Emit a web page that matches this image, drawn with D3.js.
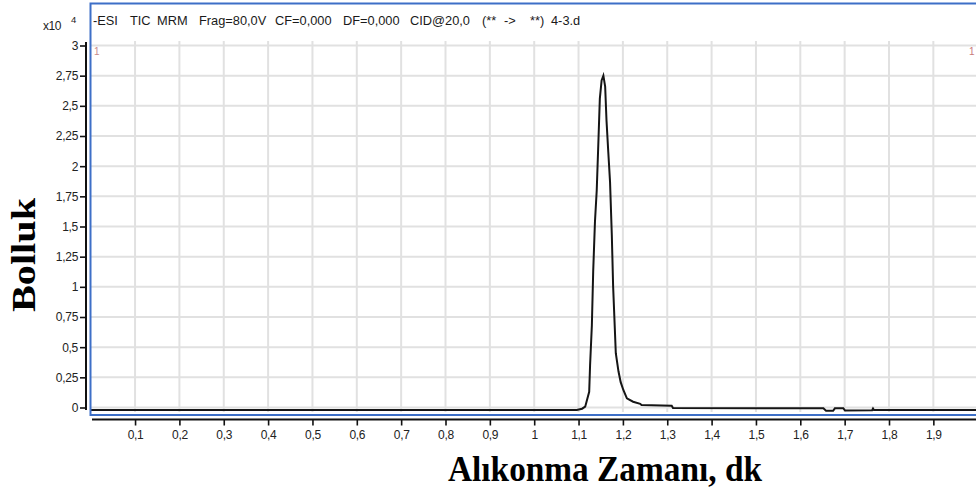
<!DOCTYPE html>
<html>
<head>
<meta charset="utf-8">
<script src="https://cdn.jsdelivr.net/npm/d3@7"></script>
<style>
  body { margin: 0; background: #fff; }
  svg { display: block; }
</style>
</head>
<body>
<svg id="chart" width="976" height="492"></svg>
<script>
// retention time (min) / abundance (x10^4)
const times = [0, 1.096, 1.108, 1.115, 1.118, 1.124, 1.126, 1.130, 1.133, 1.137, 1.141, 1.145, 1.148, 1.152, 1.156,
  1.160, 1.163, 1.167, 1.171, 1.175, 1.178, 1.184, 1.190, 1.195, 1.201, 1.209, 1.223, 1.239, 1.242, 1.310, 1.313,
  1.652, 1.658, 1.674, 1.678, 1.697, 1.701, 1.762, 1.764, 1.766, 2.0]
const abund = [-0.02, -0.02, -0.01, 0.007, 0.048, 0.13, 0.35, 0.68, 1.125, 1.54, 1.80, 2.23, 2.56, 2.71, 2.75,
  2.66, 2.38, 2.12, 1.87, 1.43, 1.00, 0.45, 0.30, 0.21, 0.145, 0.076, 0.048, 0.03, 0.02, 0.015, -0.004,
  -0.007, -0.027, -0.027, -0.007, -0.007, -0.025, -0.023, -0.008, -0.02, -0.02]

const xTicks = [0.1, 0.2, 0.3, 0.4, 0.5, 0.6, 0.7, 0.8, 0.9, 1, 1.1, 1.2, 1.3, 1.4, 1.5, 1.6, 1.7, 1.8, 1.9]
const yTicks = [0, 0.25, 0.5, 0.75, 1, 1.25, 1.5, 1.75, 2, 2.25, 2.5, 2.75, 3]

// header words and where they sit
const headerWords = ["-ESI", "TIC", "MRM", "Frag=80,0V", "CF=0,000", "DF=0,000", "CID@20,0", "(**", "->", "**)", "4-3.d"]
const headerX = [93, 130, 157, 199, 275, 343, 410, 482, 504, 530, 551]

const svg = d3.select('#chart')
const comma = d => String(d).replace('.', ',')

const x = d3.scaleLinear().domain([0, 2]).range([90.7, 977.7])
const y = d3.scaleLinear().domain([0, 3]).range([407.5, 45.5])

svg.append('defs').append('clipPath').attr('id', 'plotclip')
  .append('rect').attr('x', 91).attr('y', 38).attr('width', 890).attr('height', 376)

// grid
const grid = svg.append('g').attr('clip-path', 'url(#plotclip)')
grid.selectAll('line.v').data(xTicks).join('line')
  .attr('class', 'v')
  .attr('x1', d => x(d)).attr('x2', d => x(d))
  .attr('y1', 41).attr('y2', 412)
  .attr('stroke', '#e1e1e1').attr('stroke-width', 2)
grid.selectAll('line.h').data(yTicks).join('line')
  .attr('class', 'h')
  .attr('x1', 91).attr('x2', 976)
  .attr('y1', d => y(d)).attr('y2', d => y(d))
  .attr('stroke', '#e1e1e1').attr('stroke-width', 2)

// trace
const pts = times.map((t, i) => [t, abund[i]])
const line = d3.line().x(d => x(d[0])).y(d => y(d[1]))
svg.append('path')
  .attr('clip-path', 'url(#plotclip)')
  .attr('d', line(pts))
  .attr('fill', 'none')
  .attr('stroke', '#151515')
  .attr('stroke-width', 2)
  .attr('stroke-linejoin', 'miter')

// blue frame
svg.append('path')
  .attr('d', 'M980,3.5 H90.5 V415 H980')
  .attr('fill', 'none')
  .attr('stroke', '#3d6fc7')
  .attr('stroke-width', 2)

// header
const header = svg.append('text')
  .attr('y', 25)
  .attr('font-family', 'Arial, "Liberation Sans", sans-serif')
  .attr('font-size', 12.8)
  .attr('fill', '#1a1a1a')
header.selectAll('tspan').data(headerWords).join('tspan')
  .attr('x', (d, i) => headerX[i])
  .text(d => d)

// little markers
svg.append('text').attr('x', 94).attr('y', 55).text('1')
  .attr('font-family', 'Arial, sans-serif').attr('font-size', 10).attr('fill', '#c98a8a')
svg.append('text').attr('x', 969).attr('y', 55).text('1')
  .attr('font-family', 'Arial, sans-serif').attr('font-size', 10).attr('fill', '#c97a7a')

// y axis
const yAxis = svg.append('g')
  .attr('transform', 'translate(86,0)')
  .call(d3.axisLeft(y).tickValues(yTicks).tickFormat(comma).tickSize(6).tickSizeOuter(0).tickPadding(2))
yAxis.select('.domain').remove()
yAxis.append('line').attr('x1', 0).attr('x2', 0).attr('y1', 42).attr('y2', 410)
  .attr('stroke', '#111').attr('stroke-width', 2)
yAxis.selectAll('.tick line').attr('stroke', '#111').attr('stroke-width', 1.6)
yAxis.selectAll('.tick text')
  .attr('font-family', 'Arial, "Liberation Sans", sans-serif')
  .attr('font-size', 12).attr('fill', '#222').attr('letter-spacing', -0.3)

// x axis
const xAxis = svg.append('g')
  .attr('transform', 'translate(0,419.5)')
  .call(d3.axisBottom(x).tickValues(xTicks).tickFormat(comma).tickSize(6).tickSizeOuter(0).tickPadding(5))
xAxis.select('.domain').remove()
xAxis.append('line').attr('x1', 92).attr('x2', 976).attr('y1', 0).attr('y2', 0)
  .attr('stroke', '#111').attr('stroke-width', 2)
xAxis.selectAll('.tick line').attr('stroke', '#111').attr('stroke-width', 1.6)
xAxis.selectAll('.tick text')
  .attr('font-family', 'Arial, "Liberation Sans", sans-serif')
  .attr('font-size', 12).attr('fill', '#222').attr('letter-spacing', -0.3)

// exponent
svg.append('text').attr('x', 43).attr('y', 30).text('x10')
  .attr('font-family', 'Arial, sans-serif').attr('font-size', 12).attr('fill', '#222').attr('letter-spacing', -0.4)
svg.append('text').attr('x', 71).attr('y', 23).text('4')
  .attr('font-family', 'Arial, sans-serif').attr('font-size', 9.5).attr('fill', '#222')

// axis titles
svg.append('text')
  .attr('x', 605).attr('y', 481)
  .attr('text-anchor', 'middle')
  .attr('font-family', '"Liberation Serif", "Times New Roman", serif')
  .attr('font-weight', 'bold')
  .attr('font-size', 36)
  .attr('textLength', 314).attr('lengthAdjust', 'spacingAndGlyphs')
  .attr('fill', '#000')
  .text('Alıkonma Zamanı, dk')

svg.append('text')
  .attr('transform', 'translate(35,255) rotate(-90)')
  .attr('text-anchor', 'middle')
  .attr('font-family', '"Liberation Serif", "Times New Roman", serif')
  .attr('font-weight', 'bold')
  .attr('font-size', 34)
  .attr('textLength', 114).attr('lengthAdjust', 'spacingAndGlyphs')
  .attr('fill', '#000')
  .text('Bolluk')
</script>
</body>
</html>
